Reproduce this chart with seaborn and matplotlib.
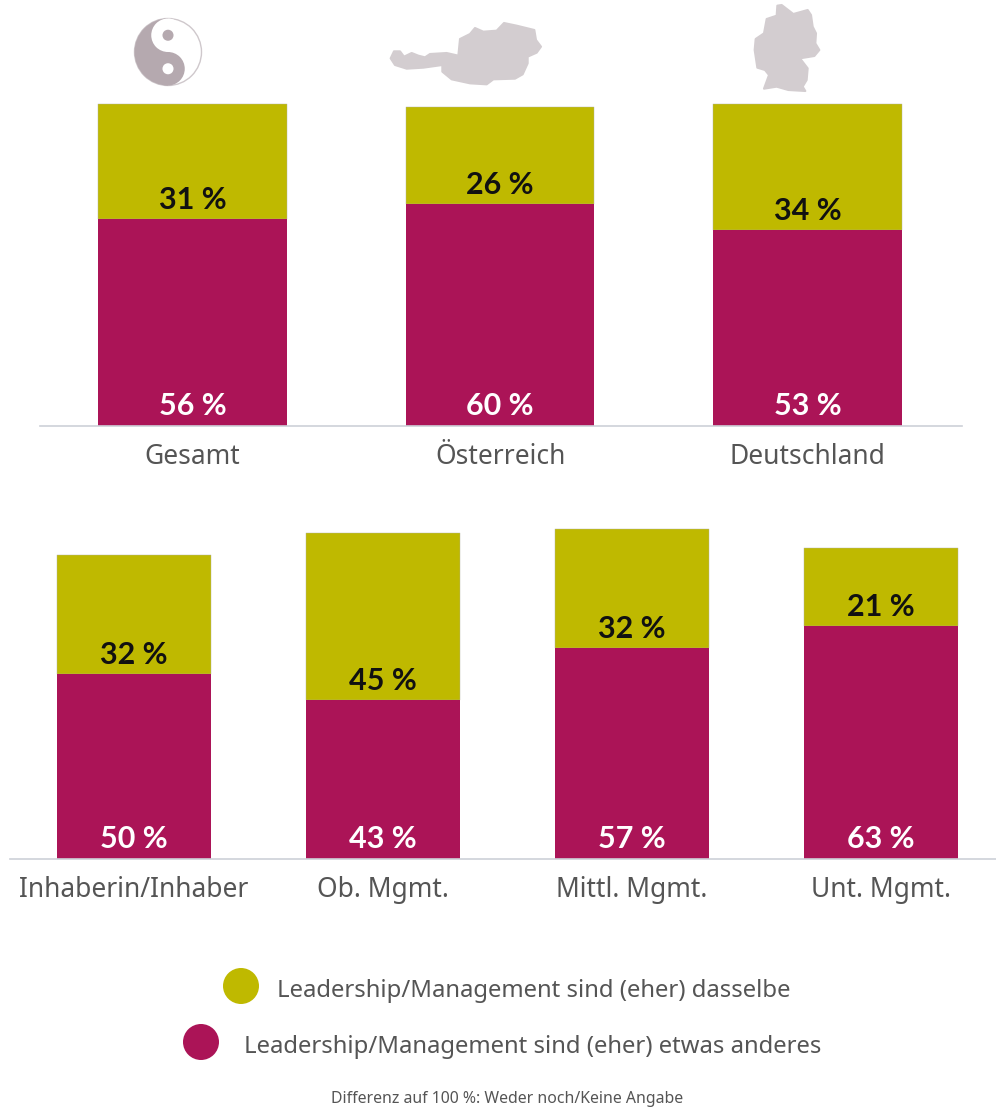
import numpy as np
import matplotlib
matplotlib.use("Agg")
import matplotlib.pyplot as plt
from matplotlib.patches import Circle, Ellipse, Polygon, Wedge
import seaborn as sns

# Survey shares in percent
regions = ["Gesamt", "Österreich", "Deutschland"]
region_anderes = [56, 60, 53]
region_dasselbe = [31, 26, 34]

roles = ["Inhaberin/Inhaber", "Ob. Mgmt.", "Mittl. Mgmt.", "Unt. Mgmt."]
role_anderes = [50, 43, 57, 63]
role_dasselbe = [32, 45, 32, 21]

legend_dasselbe = "Leadership/Management sind (eher) dasselbe"
legend_anderes = "Leadership/Management sind (eher) etwas anderes"
footnote = "Differenz auf 100 %: Weder noch/Keine Angabe"

OLIVE = "#BFB900"
MAGENTA = "#AB1457"
TEXT = "#555555"
ICON = "#D3CDD0"
YIN = "#B5A9AF"
AXIS_LINE = "#CDD1D8"

sns.set_theme(style="white")
plt.rcParams["font.family"] = ["Noto Sans", "DejaVu Sans"]

W, H = 996, 1107
fig = plt.figure(figsize=(W / 100, H / 100), dpi=100, facecolor="white")


def panel(left, right, base, labels, lower, upper, width, xlim, label_size):
    """Stacked percentage bars whose scale is 3.705 px per percentage point."""
    height = 370.5
    ax = fig.add_axes([left / W, 1 - base / H, (right - left) / W, height / H])
    ax.patch.set_alpha(0)
    lower = np.asarray(lower)
    upper = np.asarray(upper)
    sns.barplot(x=labels, y=upper, bottom=lower, color=OLIVE, saturation=1,
                width=width, edgecolor="#B0B0A0", linewidth=0.3, ax=ax)
    sns.barplot(x=labels, y=lower, color=MAGENTA, saturation=1,
                width=width, linewidth=0, ax=ax)
    ax.set_xlim(*xlim)
    ax.set_ylim(0, 100)
    ax.set_yticks([])
    ax.set_ylabel("")
    for side in ("top", "left", "right"):
        ax.spines[side].set_visible(False)
    ax.spines["bottom"].set_color(AXIS_LINE)
    ax.spines["bottom"].set_linewidth(1.2)
    ax.tick_params(axis="x", length=0, pad=12.5, labelsize=label_size, labelcolor=TEXT)
    for i, (lo, up) in enumerate(zip(lower, upper)):
        ax.annotate(f"{lo} %", (i, 0), xytext=(0, 14.5), textcoords="offset points",
                    ha="center", va="center", color="white", fontsize=22,
                    fontweight="bold", family=["Lato", "DejaVu Sans"])
        ax.annotate(f"{up} %", (i, lo), xytext=(0, 13.5), textcoords="offset points",
                    ha="center", va="center", color="#111111", fontsize=22,
                    fontweight="bold", family=["Lato", "DejaVu Sans"])
    return ax


panel(40, 962, 426, regions, region_anderes, region_dasselbe, 0.613,
      (-0.496, 2.502), 19)
panel(10, 996, 859, roles, role_anderes, role_dasselbe, 0.616,
      (-0.498, 3.462), 19)

# Full-figure overlay in pixel coordinates for the icons, legend and footnote
over = fig.add_axes([0, 0, 1, 1], zorder=5)
over.set_xlim(0, W)
over.set_ylim(H, 0)
over.axis("off")

# Yin-yang emblem
cx, cy, r = 168, 52, 33.5
over.add_patch(Circle((cx, cy), r, fc="white", ec="#CFC8CC", lw=1))
over.add_patch(Wedge((cx, cy), r, 90, 270, fc=YIN, ec="none"))
over.add_patch(Circle((cx, cy - r / 2), r / 2, fc="white", ec="none"))
over.add_patch(Circle((cx, cy + r / 2), r / 2, fc=YIN, ec="none"))
over.add_patch(Circle((cx, cy - r / 2), r * 0.165, fc=YIN, ec="none"))
over.add_patch(Circle((cx, cy + r / 2), r * 0.165, fc="white", ec="none"))

# Country silhouettes
austria = np.array([
    (32, 175), (42, 154), (60, 154), (72, 170), (95, 159), (115, 167), (135, 172),
    (150, 162), (200, 159), (235, 167), (240, 117), (270, 102), (285, 84), (310, 95),
    (350, 92), (372, 69), (410, 77), (463, 90), (468, 120), (483, 140), (470, 158),
    (443, 170), (443, 190), (428, 223), (405, 236), (340, 238), (320, 253), (270, 250),
    (215, 238), (187, 215), (187, 195), (130, 203), (80, 206), (45, 195),
]) / 3 + (380, 0)
germany = np.array([
    (1192, 17), (1205, 15), (1240, 42), (1283, 30), (1293, 45), (1298, 80), (1308, 100),
    (1306, 130), (1318, 150), (1303, 168), (1260, 175), (1283, 205), (1280, 240),
    (1268, 260), (1276, 273), (1225, 270), (1190, 260), (1152, 266), (1167, 225),
    (1155, 210), (1132, 203), (1124, 150), (1127, 117), (1152, 100), (1160, 57), (1190, 47),
]) / 3 + (380, 0)
for outline in (austria, germany):
    over.add_patch(Polygon(outline, closed=True, fc=ICON, ec=ICON, lw=1.5, joinstyle="round"))

# Legend
over.add_patch(Ellipse((241, 986), 36, 36, fc=OLIVE, ec="none"))
over.add_patch(Ellipse((201, 1042), 36, 36, fc=MAGENTA, ec="none"))
over.text(277, 991, legend_dasselbe, ha="left", va="center", color=TEXT, fontsize=17.2)
over.text(244, 1047, legend_anderes, ha="left", va="center", color=TEXT, fontsize=17.2)
over.text(507, 1099, footnote, ha="center", va="center", color=TEXT, fontsize=11.4)

fig.savefig("out.png", dpi=100, facecolor="white")
